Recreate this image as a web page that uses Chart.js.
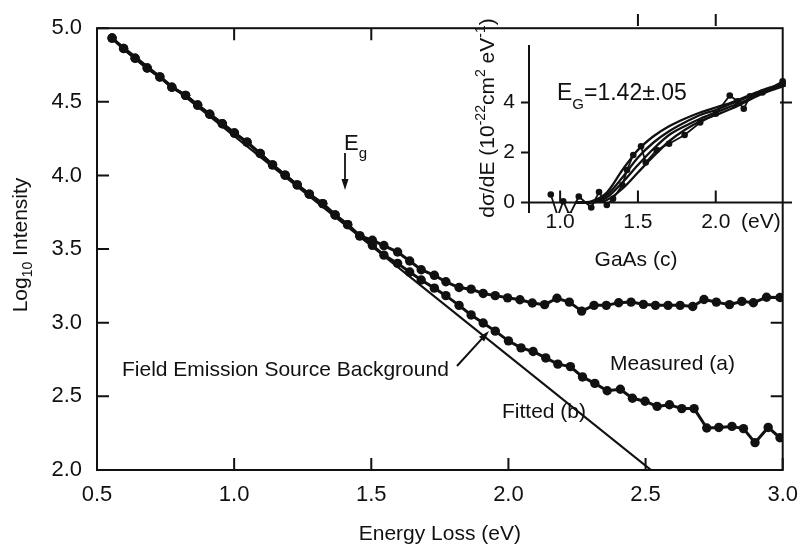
<!DOCTYPE html>
<html>
<head>
<meta charset="utf-8">
<script src="https://cdn.jsdelivr.net/npm/chart.js@4.4.1/dist/chart.umd.min.js"></script>
<style>
    html, body { margin: 0; padding: 0; background: #fff; }
    #wrap { position: relative; width: 810px; height: 547px; }
    #mainChart { position: absolute; left: 0; top: 0; }
    #insetChart { position: absolute; left: 440px; top: 0; }
</style>
</head>
<body>
<div id="wrap">
    <canvas id="mainChart" width="810" height="547"></canvas>
    <canvas id="insetChart" width="370" height="280"></canvas>
</div>
<script>
/* ==========================================
   DATA - MAIN SPECTRUM
========================================== */

const energyTicks = [0.5, 1.0, 1.5, 2.0, 2.5, 3.0];
const logTicks = [2.0, 2.5, 3.0, 3.5, 4.0, 4.5, 5.0];

// points shared by both curves before they split
const energyShared = [0.555, 0.597, 0.639, 0.683, 0.729, 0.773, 0.823, 0.867, 0.911, 0.957, 1.001,
    1.047, 1.095, 1.140, 1.186, 1.230, 1.274, 1.323, 1.368, 1.414, 1.458];
const logShared = [4.933, 4.862, 4.796, 4.730, 4.669, 4.599, 4.544, 4.478, 4.416, 4.351, 4.288,
    4.226, 4.149, 4.072, 4.002, 3.936, 3.873, 3.809, 3.732, 3.666, 3.590];

// upper branch, Measured (a)
const upperEnergy = [1.504, 1.546, 1.596, 1.640, 1.682, 1.730, 1.772, 1.820, 1.864, 1.908, 1.952,
    1.997, 2.042, 2.087, 2.132, 2.177, 2.222, 2.267, 2.312, 2.357, 2.402, 2.447, 2.492, 2.536,
    2.582, 2.626, 2.672, 2.713, 2.758, 2.806, 2.851, 2.893, 2.941, 2.990];
const upperLog = [3.560, 3.524, 3.480, 3.419, 3.360, 3.322, 3.278, 3.239, 3.228, 3.199, 3.184,
    3.169, 3.156, 3.134, 3.123, 3.166, 3.140, 3.079, 3.118, 3.118, 3.136, 3.140, 3.125, 3.118,
    3.118, 3.118, 3.110, 3.158, 3.140, 3.123, 3.145, 3.136, 3.173, 3.171];

// lower branch, Fitted (b)
const lowerEnergy = [1.504, 1.546, 1.596, 1.640, 1.682, 1.730, 1.772, 1.820, 1.864, 1.908, 1.952,
    2.000, 2.046, 2.090, 2.136, 2.180, 2.226, 2.270, 2.315, 2.360, 2.408, 2.452, 2.498, 2.542,
    2.587, 2.632, 2.677, 2.723, 2.767, 2.815, 2.857, 2.899, 2.947, 2.990];
const lowerLog = [3.525, 3.459, 3.403, 3.344, 3.290, 3.235, 3.184, 3.118, 3.053, 2.998, 2.943,
    2.877, 2.829, 2.805, 2.761, 2.719, 2.702, 2.632, 2.588, 2.538, 2.548, 2.487, 2.467, 2.432,
    2.443, 2.417, 2.417, 2.285, 2.289, 2.296, 2.281, 2.186, 2.289, 2.219];

// field emission source background (straight fit)
const fitEnergy = [0.555, 2.52];
const fitLog = [4.933, 2.0];

/* ==========================================
   DATA - INSET (GaAs)
========================================== */

const insetTicksE = [1.0, 1.5, 2.0];
const insetTicksS = [0, 2, 4];

const insetEnergy = [1.1, 1.2, 1.3, 1.4, 1.5, 1.6, 1.7, 1.8, 1.9, 2.0, 2.1, 2.2, 2.3, 2.45];
const insetFitA = [0, 0.05, 0.40, 1.30, 2.10, 2.65, 3.05, 3.35, 3.60, 3.80, 4.00, 4.25, 4.50, 4.80];
const insetFitB = [0, 0.02, 0.30, 1.00, 1.80, 2.40, 2.85, 3.20, 3.50, 3.70, 3.95, 4.20, 4.45, 4.78];
const insetFitC = [0, 0, 0.20, 0.80, 1.50, 2.15, 2.70, 3.05, 3.35, 3.60, 3.85, 4.10, 4.40, 4.72];
const insetFitD = [0, 0, 0.10, 0.55, 1.20, 1.85, 2.45, 2.90, 3.25, 3.50, 3.75, 4.05, 4.35, 4.68];

const insetDataE = [0.94, 0.985, 1.02, 1.06, 1.12, 1.20, 1.25, 1.30, 1.34, 1.40, 1.43, 1.47,
    1.52, 1.55, 1.62, 1.70, 1.80, 1.90, 2.00, 2.09, 2.14, 2.18, 2.22, 2.30, 2.43];
const insetDataS = [0.32, -0.55, 0.05, -0.50, 0.24, -0.20, 0.42, -0.10, 0.15, 0.70, 1.30, 1.90,
    2.25, 1.60, 2.10, 2.35, 2.70, 3.20, 3.55, 4.28, 4.05, 3.75, 4.25, 4.40, 4.85];

/* ==========================================
   HELPERS
========================================== */

const INK = "#111";
const FONT = "'Liberation Sans', Arial, sans-serif";

function pairs(xs, ys) {
    return xs.map((v, i) => ({ x: v, y: ys[i] }));
}

function arrow(ctx, x1, y1, x2, y2) {
    const ang = Math.atan2(y2 - y1, x2 - x1);
    ctx.beginPath();
    ctx.moveTo(x1, y1);
    ctx.lineTo(x2 - 6 * Math.cos(ang), y2 - 6 * Math.sin(ang));
    ctx.stroke();
    ctx.beginPath();
    ctx.moveTo(x2, y2);
    ctx.lineTo(x2 - 11 * Math.cos(ang) + 3.5 * Math.sin(ang), y2 - 11 * Math.sin(ang) - 3.5 * Math.cos(ang));
    ctx.lineTo(x2 - 11 * Math.cos(ang) - 3.5 * Math.sin(ang), y2 - 11 * Math.sin(ang) + 3.5 * Math.cos(ang));
    ctx.closePath();
    ctx.fill();
}

// draws text pieces in a row; each piece is [text, size, shift]
function drawPieces(ctx, pieces, x, y) {
    let cx = x;
    pieces.forEach(([t, size, shift]) => {
        ctx.font = size + "px " + FONT;
        ctx.fillText(t, cx, y + shift);
        cx += ctx.measureText(t).width;
    });
}

function piecesWidth(ctx, pieces) {
    let w = 0;
    pieces.forEach(([t, size]) => {
        ctx.font = size + "px " + FONT;
        w += ctx.measureText(t).width;
    });
    return w;
}

/* ==========================================
   MAIN CHART PLUGINS
========================================== */

const mainFrame = {
    id: "mainFrame",
    afterDraw(chart) {
        const { ctx, chartArea: a, scales: { x, y } } = chart;
        ctx.save();
        ctx.strokeStyle = INK;
        ctx.lineWidth = 2;
        ctx.strokeRect(a.left, a.top, a.right - a.left, a.bottom - a.top);

        ctx.beginPath();
        logTicks.forEach(v => {
            const py = y.getPixelForValue(v);
            ctx.moveTo(a.left, py);
            ctx.lineTo(a.left + 12, py);
            if (v > 2.0 && v <= 3.0) {
                ctx.moveTo(a.right, py);
                ctx.lineTo(a.right - 12, py);
            }
        });
        energyTicks.forEach(v => {
            const px = x.getPixelForValue(v);
            ctx.moveTo(px, a.bottom);
            ctx.lineTo(px, a.bottom - 12);
            if (v > 0.5 && v < 2.0) {
                ctx.moveTo(px, a.top);
                ctx.lineTo(px, a.top + 12);
            }
        });
        ctx.stroke();
        ctx.restore();
    }
};

const mainNotes = {
    id: "mainNotes",
    afterDraw(chart) {
        const ctx = chart.ctx;
        ctx.save();
        ctx.fillStyle = INK;
        ctx.strokeStyle = INK;
        ctx.textBaseline = "alphabetic";
        ctx.textAlign = "left";

        // y axis title with subscript
        const title = [["Log", 21, 0], ["10", 14, 5], [" Intensity", 21, 0]];
        ctx.save();
        ctx.translate(27, 245);
        ctx.rotate(-Math.PI / 2);
        drawPieces(ctx, title, -piecesWidth(ctx, title) / 2, 0);
        ctx.restore();

        ctx.font = "21px " + FONT;
        ctx.fillText("Field Emission Source Background", 122, 376);
        ctx.fillText("Measured (a)", 610, 370);
        ctx.fillText("Fitted (b)", 502, 418);

        ctx.lineWidth = 2;
        arrow(ctx, 457, 366, 489, 331);

        // band gap marker
        drawPieces(ctx, [["E", 22, 0], ["g", 15, 8]], 344, 150);
        ctx.lineWidth = 1.8;
        arrow(ctx, 345, 153, 345, 190);
        ctx.restore();
    }
};

/* ==========================================
   MAIN CHART
========================================== */

const dotStyle = {
    borderColor: INK,
    borderWidth: 3,
    pointRadius: 4.7,
    pointBackgroundColor: INK,
    pointBorderWidth: 0,
    tension: 0
};

new Chart(document.getElementById("mainChart"), {
    type: "line",
    data: {
        datasets: [
            {
                label: "Field Emission Source Background",
                data: pairs(fitEnergy, fitLog),
                borderColor: INK,
                borderWidth: 2.2,
                pointRadius: 0
            },
            {
                label: "Fitted (b)",
                data: pairs(energyShared.concat(lowerEnergy), logShared.concat(lowerLog)),
                ...dotStyle
            },
            {
                label: "Measured (a)",
                data: pairs(energyShared.concat(upperEnergy), logShared.concat(upperLog)),
                ...dotStyle
            }
        ]
    },
    options: {
        responsive: false,
        animation: false,
        layout: { padding: { left: 0, top: 14, right: 18, bottom: 0 } },
        plugins: {
            legend: { display: false },
            tooltip: { enabled: false }
        },
        scales: {
            x: {
                type: "linear",
                min: 0.5,
                max: 3.0,
                afterBuildTicks: s => { s.ticks = energyTicks.map(v => ({ value: v })); },
                afterFit: s => { s.height = 77; },
                grid: { display: false, drawTicks: false },
                border: { display: false },
                ticks: {
                    padding: 12,
                    color: INK,
                    font: { family: FONT, size: 22 },
                    maxRotation: 0,
                    autoSkip: false,
                    callback: v => v.toFixed(1)
                },
                title: {
                    display: true,
                    text: "Energy Loss (eV)",
                    color: INK,
                    font: { family: FONT, size: 21 },
                    padding: 0
                }
            },
            y: {
                type: "linear",
                min: 2.0,
                max: 5.0,
                afterBuildTicks: s => { s.ticks = logTicks.map(v => ({ value: v })); },
                afterFit: s => { s.width = 97; },
                grid: { display: false, drawTicks: false },
                border: { display: false },
                ticks: {
                    padding: 15,
                    color: INK,
                    font: { family: FONT, size: 22 },
                    callback: v => v.toFixed(1)
                }
            }
        }
    },
    plugins: [mainFrame, mainNotes]
});

/* ==========================================
   INSET PLUGINS
========================================== */

const insetFrame = {
    id: "insetFrame",
    afterDraw(chart) {
        const { ctx, chartArea: a, scales: { x, y } } = chart;
        const y0 = y.getPixelForValue(0);
        ctx.save();
        ctx.strokeStyle = INK;
        ctx.lineWidth = 2;
        ctx.beginPath();
        ctx.moveTo(a.left, a.top);
        ctx.lineTo(a.left, a.bottom);
        ctx.moveTo(a.left, y0);
        ctx.lineTo(a.right, y0);
        insetTicksS.forEach(v => {
            const py = y.getPixelForValue(v);
            ctx.moveTo(a.left - 8, py);
            ctx.lineTo(a.left, py);
        });
        // tick on the shared right border
        const p4 = y.getPixelForValue(4);
        ctx.moveTo(a.right - 12, p4);
        ctx.lineTo(a.right, p4);
        insetTicksE.forEach(v => {
            const px = x.getPixelForValue(v);
            ctx.moveTo(px, y0);
            ctx.lineTo(px, y0 - 12);
            if (v > 1.0) {
                ctx.moveTo(px, 14);
                ctx.lineTo(px, 26);
            }
        });
        ctx.stroke();
        ctx.restore();
    }
};

const insetNotes = {
    id: "insetNotes",
    afterDraw(chart) {
        const ctx = chart.ctx;
        ctx.save();
        ctx.fillStyle = INK;
        ctx.textAlign = "left";
        ctx.textBaseline = "alphabetic";

        drawPieces(ctx, [["E", 23, 0], ["G", 15, 9], ["=1.42\u00b1.05", 23, 0]], 117, 100);

        ctx.font = "21px " + FONT;
        ctx.textAlign = "center";
        ctx.fillText("GaAs (c)", 196, 266);
        ctx.textAlign = "left";
        ctx.fillText("(eV)", 301, 228);

        // rotated y title with superscripts
        const title = [["d\u03c3/dE (10", 21, 0], ["-22", 14, -9], ["cm", 21, 0], ["2", 14, -9],
            [" eV", 21, 0], ["-1", 14, -9], [")", 21, 0]];
        ctx.save();
        ctx.translate(54, 118);
        ctx.rotate(-Math.PI / 2);
        drawPieces(ctx, title, -piecesWidth(ctx, title) / 2, 0);
        ctx.restore();
        ctx.restore();
    }
};

/* ==========================================
   INSET CHART
========================================== */

const fitLine = {
    borderColor: INK,
    borderWidth: 2.3,
    pointRadius: 0,
    tension: 0.3
};

new Chart(document.getElementById("insetChart"), {
    type: "line",
    data: {
        datasets: [
            { label: "fit 1", data: pairs(insetEnergy, insetFitA), ...fitLine },
            { label: "fit 2", data: pairs(insetEnergy, insetFitB), ...fitLine },
            { label: "fit 3", data: pairs(insetEnergy, insetFitC), ...fitLine },
            { label: "fit 4", data: pairs(insetEnergy, insetFitD), ...fitLine },
            {
                label: "GaAs (c)",
                data: pairs(insetDataE, insetDataS),
                borderColor: INK,
                borderWidth: 1.8,
                pointRadius: 3.3,
                pointBackgroundColor: INK,
                pointBorderWidth: 0
            }
        ]
    },
    options: {
        responsive: false,
        animation: false,
        layout: { padding: { left: 0, top: 45, right: 18, bottom: 67 } },
        plugins: {
            legend: { display: false },
            tooltip: { enabled: false }
        },
        scales: {
            x: {
                type: "linear",
                min: 0.8,
                max: 2.49,
                position: { y: 0 },
                afterBuildTicks: s => { s.ticks = insetTicksE.map(v => ({ value: v })); },
                afterFit: s => { s.height = 0; },
                grid: { display: false, drawTicks: false },
                border: { display: false },
                ticks: {
                    padding: 7,
                    color: INK,
                    font: { family: FONT, size: 21 },
                    maxRotation: 0,
                    autoSkip: false,
                    callback: v => v.toFixed(1)
                }
            },
            y: {
                type: "linear",
                min: -0.42,
                max: 6.3,
                afterBuildTicks: s => { s.ticks = insetTicksS.map(v => ({ value: v })); },
                afterFit: s => { s.width = 89; },
                grid: { display: false, drawTicks: false },
                border: { display: false },
                ticks: {
                    padding: 14,
                    color: INK,
                    font: { family: FONT, size: 21 },
                    callback: v => String(v)
                }
            }
        }
    },
    plugins: [insetFrame, insetNotes]
});
</script>
</body>
</html>
